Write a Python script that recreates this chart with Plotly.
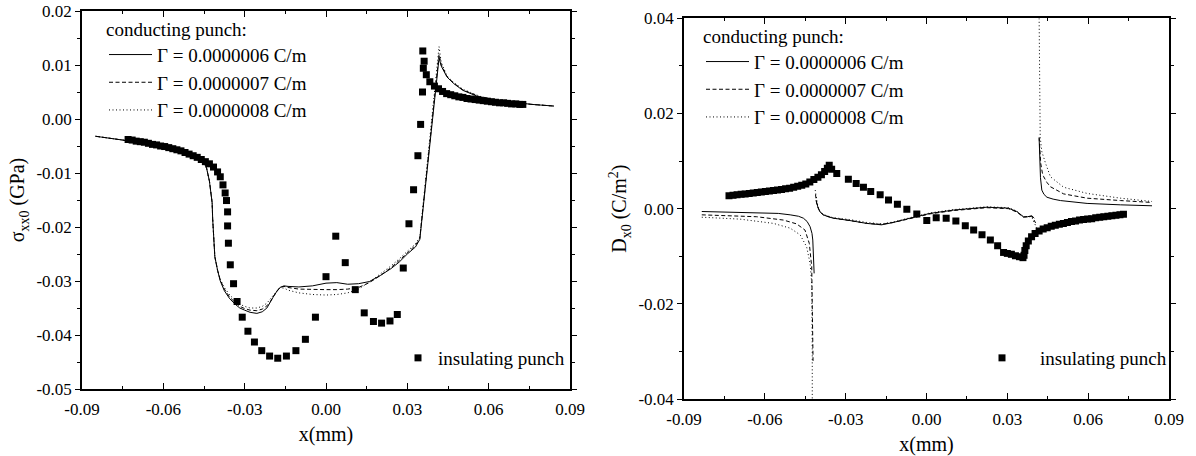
import plotly.graph_objects as go

# ---------------- data: left panel (sigma_xx0, GPa) ----------------
sig_x = [-0.085, -0.080, -0.075, -0.070, -0.065, -0.060, -0.055, -0.050, -0.047, -0.045,
         -0.044, -0.043, -0.0425, -0.042, -0.0418, -0.0415, -0.041, -0.040, -0.039, -0.0375,
         -0.0355, -0.0335, -0.0318, -0.030, -0.028, -0.0255, -0.0235, -0.0218, -0.0205, -0.0195,
         -0.018, -0.017, -0.0155, -0.014, -0.010, -0.005, 0.000, 0.004, 0.008, 0.012,
         0.016, 0.020, 0.024, 0.027, 0.030, 0.033, 0.0346, 0.036, 0.038, 0.040,
         0.0417, 0.0425, 0.0446, 0.047, 0.0505, 0.0568, 0.063, 0.069, 0.076, 0.084]
sig_06 = [-0.0032, -0.0035, -0.0039, -0.0043, -0.0047, -0.0052, -0.0058, -0.0066, -0.0072, -0.0080,
          -0.0092, -0.0115, -0.0135, -0.0155, -0.0185, -0.0220, -0.0255, -0.0280, -0.0300, -0.0318,
          -0.0333, -0.0343, -0.0350, -0.0354, -0.0358, -0.0360, -0.0357, -0.0350, -0.0340, -0.0330,
          -0.0318, -0.0312, -0.0309, -0.0310, -0.0311, -0.0309, -0.0304, -0.0303, -0.0306, -0.0305,
          -0.0301, -0.0290, -0.0277, -0.0265, -0.0250, -0.0237, -0.0223, -0.0155, -0.0061, 0.0033,
          0.0113, 0.0098, 0.0078, 0.0066, 0.0053, 0.0040, 0.0034, 0.0031, 0.0027, 0.0024]
sig_07 = [-0.0032, -0.0035, -0.0039, -0.0043, -0.0047, -0.0052, -0.0058, -0.0066, -0.0072, -0.0080,
          -0.0092, -0.0115, -0.0135, -0.0155, -0.0185, -0.0220, -0.0255, -0.0280, -0.0298, -0.0315,
          -0.0330, -0.0340, -0.0347, -0.0351, -0.0354, -0.0355, -0.0352, -0.0346, -0.0338, -0.0329,
          -0.0318, -0.0312, -0.0310, -0.0312, -0.0315, -0.0316, -0.0316, -0.0316, -0.0315, -0.0312,
          -0.0303, -0.0290, -0.0275, -0.0262, -0.0248, -0.0234, -0.0221, -0.0152, -0.0058, 0.0037,
          0.0120, 0.0101, 0.0079, 0.0067, 0.0054, 0.0041, 0.0034, 0.0031, 0.0027, 0.0024]
sig_08 = [-0.0032, -0.0035, -0.0039, -0.0043, -0.0047, -0.0052, -0.0058, -0.0066, -0.0072, -0.0080,
          -0.0092, -0.0115, -0.0135, -0.0155, -0.0185, -0.0220, -0.0255, -0.0280, -0.0297, -0.0312,
          -0.0326, -0.0336, -0.0343, -0.0347, -0.0350, -0.0350, -0.0347, -0.0341, -0.0334, -0.0327,
          -0.0318, -0.0313, -0.0313, -0.0317, -0.0322, -0.0325, -0.0326, -0.0325, -0.0322, -0.0315,
          -0.0302, -0.0287, -0.0272, -0.0259, -0.0245, -0.0231, -0.0219, -0.0150, -0.0055, 0.0040,
          0.0134, 0.0105, 0.0080, 0.0068, 0.0055, 0.0042, 0.0035, 0.0031, 0.0027, 0.0024]

ins_sig_x = [-0.073, -0.0715, -0.070, -0.0685, -0.067, -0.0655, -0.064, -0.0625, -0.061, -0.0595,
             -0.058, -0.0565, -0.055, -0.0535, -0.052, -0.0505, -0.049, -0.0475, -0.046, -0.0445,
             -0.043, -0.0415, -0.040, -0.039, -0.038, -0.0372, -0.0367,
             -0.0363, -0.0363, -0.0360, -0.0353, -0.0341, -0.0328, -0.0309, -0.0288, -0.0264, -0.0237,
             -0.0208, -0.0178, -0.0146, -0.0111, -0.0076, -0.0039, 0.0000, 0.0036, 0.0071, 0.0108,
             0.0141, 0.0175, 0.0205, 0.0236, 0.0263, 0.0285, 0.0306, 0.0323, 0.0339, 0.0349,
             0.0356, 0.0359, 0.0362, 0.0357,
             0.0370, 0.0383, 0.040, 0.0415, 0.043, 0.0445, 0.046, 0.0475, 0.049, 0.0505,
             0.052, 0.0535, 0.055, 0.0565, 0.058, 0.0595, 0.061, 0.0625, 0.064, 0.0655,
             0.067, 0.0685, 0.070, 0.0715, 0.0726]
ins_sig_y = [-0.0038, -0.0039, -0.0041, -0.0042, -0.0043, -0.0045, -0.0047, -0.0048, -0.0050, -0.0051,
             -0.0053, -0.0055, -0.0057, -0.0059, -0.0062, -0.0065, -0.0068, -0.0071, -0.0075, -0.0079,
             -0.0083, -0.0089, -0.0098, -0.0107, -0.0122, -0.0137, -0.0151,
             -0.0172, -0.0198, -0.0230, -0.0270, -0.0305, -0.0338, -0.0367, -0.0393, -0.0413, -0.0429,
             -0.0439, -0.0443, -0.0439, -0.0429, -0.0408, -0.0367, -0.0292, -0.0217, -0.0266, -0.0316,
             -0.0359, -0.0375, -0.0378, -0.0374, -0.0362, -0.0276, -0.0194, -0.0131, -0.0068, -0.0010,
             0.0050, 0.0094, 0.0107, 0.0126,
             0.0082, 0.0069, 0.0061, 0.0056, 0.0051, 0.0047, 0.0045, 0.0043, 0.0041, 0.0040,
             0.0038, 0.0037, 0.0036, 0.0035, 0.0034, 0.0033, 0.0032, 0.0031, 0.0030, 0.0030,
             0.0029, 0.0028, 0.0028, 0.0027, 0.0027]

# ---------------- data: right panel (D_x0, C/m^2) ----------------
d06_x = [-0.0834, -0.075, -0.063, -0.055, -0.0506, -0.0475, -0.0457, -0.0443, -0.0432, -0.0425,
         -0.0422, -0.0419, -0.0417, None,
         -0.0410, -0.0406, -0.0402, -0.0395, -0.0383, -0.0365, -0.0346, -0.0284, -0.0222, -0.0167,
         -0.0123, -0.0061, 0.0013, 0.0100, 0.0224, 0.0304, 0.0335, 0.0360, 0.0375, 0.0391, 0.0400, None,
         0.0418, 0.0420, 0.0423, 0.0428, 0.0436, 0.0447, 0.0470, 0.0497, 0.0596, 0.0720, 0.0837]
d06_y = [-0.0006, -0.0007, -0.0008, -0.0010, -0.0013, -0.0016, -0.0020, -0.0027, -0.0038, -0.0052,
         -0.0066, -0.0100, -0.0136, None,
         0.0018, 0.0008, 0.0001, -0.0007, -0.0013, -0.0017, -0.0020, -0.0025, -0.0031, -0.0034,
         -0.0029, -0.0020, -0.0010, -0.0003, 0.0003, 0.0001, -0.0006, -0.0017, -0.0017, -0.0015, -0.0020, None,
         0.0148, 0.0100, 0.0065, 0.0039, 0.0030, 0.0024, 0.0020, 0.0017, 0.0011, 0.0008, 0.0006]

d07_x = [-0.0834, -0.075, -0.063, -0.0531, -0.0482, -0.0451, -0.0435, -0.0426, -0.0423, -0.0421, None,
         -0.0412, -0.0408, -0.0402, -0.0395, -0.0383, -0.0365, -0.0346, -0.0284, -0.0222, -0.0167,
         -0.0123, -0.0061, 0.0013, 0.0100, 0.0224, 0.0304, 0.0335, 0.0360, 0.0375, 0.0391, 0.0405, None,
         0.0418, 0.0420, 0.0424, 0.0430, 0.0435, 0.0447, 0.0460, 0.0509, 0.0596, 0.0720, 0.0837]
d07_y = [-0.0013, -0.0015, -0.0017, -0.0024, -0.0032, -0.0045, -0.0073, -0.0122, -0.0200, -0.0320, None,
         0.0030, 0.0012, 0.0002, -0.0007, -0.0013, -0.0017, -0.0020, -0.0025, -0.0031, -0.0033,
         -0.0029, -0.0021, -0.0011, -0.0004, 0.0002, 0.0000, -0.0007, -0.0018, -0.0017, -0.0016, -0.0030, None,
         0.0150, 0.0120, 0.0095, 0.0075, 0.0067, 0.0055, 0.0046, 0.0031, 0.0022, 0.0017, 0.0013]

d08_x = [-0.0834, -0.0692, -0.0568, -0.0506, -0.0469, -0.0445, -0.0432, -0.0426, -0.0424, -0.0424, None,
         -0.0413, -0.0409, -0.0403, -0.0395, -0.0383, -0.0365, -0.0346, -0.0284, -0.0222, -0.0167,
         -0.0123, -0.0061, 0.0013, 0.0100, 0.0224, 0.0304, 0.0335, 0.0360, 0.0375, 0.0391, 0.0410, None,
         0.0418, 0.0419, 0.0422, 0.0428, 0.0435, 0.0442, 0.0460, 0.0509, 0.0596, 0.0720, 0.0837]
d08_y = [-0.0018, -0.0022, -0.0031, -0.0041, -0.0055, -0.0080, -0.0115, -0.0157, -0.0300, -0.0400, None,
         0.0039, 0.0020, 0.0004, -0.0006, -0.0012, -0.0016, -0.0019, -0.0023, -0.0029, -0.0032,
         -0.0028, -0.0019, -0.0009, -0.0002, 0.0004, 0.0002, -0.0005, -0.0018, -0.0016, -0.0018, -0.0042, None,
         0.0400, 0.0200, 0.0150, 0.0120, 0.0105, 0.0095, 0.0067, 0.0045, 0.0032, 0.0022, 0.0015]

ins_d_x = [-0.0733, -0.0718, -0.0703, -0.0688, -0.0673, -0.0658, -0.0643, -0.0628, -0.0613, -0.0598,
           -0.0583, -0.0568, -0.0553, -0.0538, -0.0523, -0.0508, -0.0493, -0.0478, -0.0463, -0.0448,
           -0.0433, -0.0418, -0.0403, -0.0390, -0.0378, -0.0368, -0.0361,
           -0.0352, -0.0333, -0.0290, -0.0261, -0.0234, -0.0207, -0.0172, -0.0141, -0.0108, -0.0073,
           -0.0036, 0.0001, 0.0036, 0.0073, 0.0109, 0.0144, 0.0175, 0.0206, 0.0237, 0.0264,
           0.0286, 0.0300, 0.0315, 0.0330, 0.0345, 0.0358, 0.0362, 0.0365, 0.0370, 0.0378,
           0.0390, 0.0403, 0.0418, 0.0433, 0.0448, 0.0463, 0.0478, 0.0493, 0.0508, 0.0523,
           0.0538, 0.0553, 0.0568, 0.0583, 0.0598, 0.0613, 0.0628, 0.0643, 0.0658, 0.0673,
           0.0688, 0.0703, 0.0718, 0.0731]
ins_d_y = [0.0027, 0.0028, 0.0029, 0.0030, 0.0031, 0.0032, 0.0033, 0.0034, 0.0035, 0.0036,
           0.0037, 0.0038, 0.0039, 0.0040, 0.0042, 0.0043, 0.0045, 0.0047, 0.0049, 0.0052,
           0.0056, 0.0061, 0.0066, 0.0071, 0.0078, 0.0085, 0.0091,
           0.0083, 0.0074, 0.0062, 0.0053, 0.0045, 0.0036, 0.0029, 0.0018, 0.0009, -0.0001,
           -0.0011, -0.0025, -0.0019, -0.0020, -0.0026, -0.0036, -0.0045, -0.0055, -0.0066, -0.0078,
           -0.0092, -0.0094, -0.0096, -0.0099, -0.0101, -0.0103, -0.0098, -0.0088, -0.0078, -0.0068,
           -0.0059, -0.0052, -0.0047, -0.0043, -0.0040, -0.0037, -0.0035, -0.0033, -0.0031, -0.0029,
           -0.0027, -0.0026, -0.0024, -0.0023, -0.0022, -0.0021, -0.0019, -0.0018, -0.0017, -0.0016,
           -0.0015, -0.0014, -0.0013, -0.0012]

gamma_names = ["Γ = 0.0000006 C/m", "Γ = 0.0000007 C/m", "Γ = 0.0000008 C/m"]
x_ticks = [-0.09, -0.06, -0.03, 0.00, 0.03, 0.06, 0.09]
x_ticktext = ["-0.09", "-0.06", "-0.03", "0.00", "0.03", "0.06", "0.09"]
sig_ticks = [0.02, 0.01, 0.00, -0.01, -0.02, -0.03, -0.04, -0.05]
sig_ticktext = ["0.02", "0.01", "0.00", "-0.01", "-0.02", "-0.03", "-0.04", "-0.05"]
d_ticks = [0.04, 0.02, 0.00, -0.02, -0.04]
d_ticktext = ["0.04", "0.02", "0.00", "-0.02", "-0.04"]

FONT = "'Liberation Serif', 'Times New Roman', Times, serif"
dashes = ["solid", "4px,2.5px", "1px,2.5px"]

fig = go.Figure()

left_y = [sig_06, sig_07, sig_08]
for i in range(3):
    fig.add_trace(go.Scatter(x=sig_x, y=left_y[i], mode="lines", name=gamma_names[i],
                             line=dict(color="black", width=1, dash=dashes[i]),
                             xaxis="x", yaxis="y", legend="legend"))
fig.add_trace(go.Scatter(x=ins_sig_x, y=ins_sig_y, mode="markers", name="insulating punch",
                         marker=dict(symbol="square", size=7, color="black"),
                         xaxis="x", yaxis="y", legend="legend2"))

right_x = [d06_x, d07_x, d08_x]
right_y = [d06_y, d07_y, d08_y]
for i in range(3):
    fig.add_trace(go.Scatter(x=right_x[i], y=right_y[i], mode="lines", name=gamma_names[i],
                             line=dict(color="black", width=1, dash=dashes[i]),
                             connectgaps=False,
                             xaxis="x2", yaxis="y2", legend="legend3"))
fig.add_trace(go.Scatter(x=ins_d_x, y=ins_d_y, mode="markers", name="insulating punch",
                         marker=dict(symbol="square", size=7, color="black"),
                         xaxis="x2", yaxis="y2", legend="legend4"))

W, H = 1196, 456
ML, MR, MT, MB = 82, 27, 11, 57
PW, PH = W - ML - MR, H - MT - MB


def px_x(p):
    return (p - ML) / PW


def px_y(p):
    return (H - MB - p) / PH


def xax(dom, anchor):
    return dict(domain=dom, anchor=anchor, range=[-0.09, 0.09], automargin=False,
                tickmode="array", tickvals=x_ticks, ticktext=x_ticktext,
                ticks="inside", ticklen=6, tickwidth=1.2, tickcolor="black",
                minor=dict(tickmode="linear", tick0=0, dtick=0.015, ticks="inside", ticklen=3,
                           tickwidth=1, tickcolor="black"),
                showline=True, linecolor="black", linewidth=1.5, mirror="ticks",
                showgrid=False, zeroline=False,
                tickfont=dict(family=FONT, size=17, color="black"),
                ticklabelstandoff=4,
                title=dict(text="x(mm)", font=dict(family=FONT, size=20, color="black"), standoff=9))


def yax(dom, anchor, rng, tv, tt, minor_dt, title):
    return dict(domain=dom, anchor=anchor, range=rng, automargin=False,
                tickmode="array", tickvals=tv, ticktext=tt,
                ticks="outside", ticklen=5, tickwidth=1.2, tickcolor="black",
                minor=dict(tickmode="linear", tick0=0, dtick=minor_dt, ticks="outside", ticklen=3,
                           tickwidth=1, tickcolor="black"),
                showline=True, linecolor="black", linewidth=1.5, mirror="ticks",
                showgrid=False, zeroline=False,
                tickfont=dict(family=FONT, size=17, color="black"),
                title=dict(text=title, font=dict(family=FONT, size=20, color="black"), standoff=6))


legend_common = dict(bgcolor="rgba(0,0,0,0)", borderwidth=0, xanchor="left", yanchor="top",
                     font=dict(family=FONT, size=19, color="black"), tracegroupgap=0)

fig.update_layout(
    template="none",
    width=W, height=H, margin=dict(l=ML, r=MR, t=MT, b=MB, pad=0),
    paper_bgcolor="white", plot_bgcolor="white",
    font=dict(family=FONT, color="black"),
    xaxis=xax([0, px_x(570)], "y"),
    yaxis=yax([px_y(389), px_y(11)], "x", [-0.05, 0.02], sig_ticks, sig_ticktext, 0.005,
              "σ<sub>xx0</sub> (GPa)"),
    xaxis2=xax([px_x(684), px_x(1169)], "y2"),
    yaxis2=yax([px_y(399), px_y(18.3)], "x2", [-0.04, 0.04], d_ticks, d_ticktext, 0.01,
               "D<sub>x0</sub> (C/m<sup>2</sup>)"),
    legend=dict(**legend_common, x=px_x(104), y=px_y(11), itemwidth=43,
                title=dict(text="conducting punch:", font=dict(family=FONT, size=19, color="black"))),
    legend2=dict(**legend_common, x=px_x(398), y=px_y(339)),
    legend3=dict(**legend_common, x=px_x(701), y=px_y(18), itemwidth=43,
                 title=dict(text="conducting punch:", font=dict(family=FONT, size=19, color="black"))),
    legend4=dict(**legend_common, x=px_x(964), y=px_y(339), itemwidth=66),
)

fig.write_html("out.html")
